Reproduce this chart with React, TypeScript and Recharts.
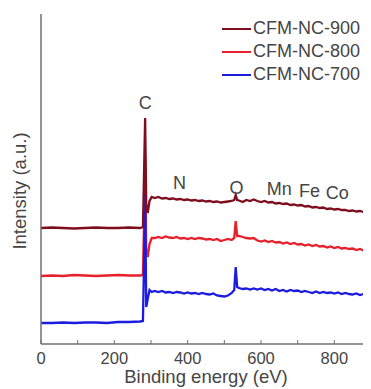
import { Line, LineChart, ReferenceDot, XAxis, YAxis } from "recharts";

// binding energy grid (eV), denser around the C 1s and O 1s lines
const energy = [
  0, 30, 60, 90, 120, 150, 180, 210, 240, 270,
  278, 281, 284, 287, 291, 296, 302,
  310, 320, 330, 340, 350, 360, 370, 380, 390, 400, 410, 420, 430, 440, 450,
  460, 470, 480, 490, 500, 510, 520,
  527, 531, 535,
  540, 550, 560, 570, 580, 590, 600, 610, 620, 630, 640, 650, 660, 670, 680,
  690, 700, 710, 720, 730, 740, 750, 760, 770, 780, 790, 800, 810, 820, 830,
  840, 850, 860, 870, 880, 890, 900,
];

// stacked survey spectra, offset intensity (a.u.)
const nc900 = [
  116, 116.5, 116, 115.5, 116, 116.5, 116, 116, 116.5, 116,
  117, 170, 226, 140, 131, 143, 147,
  146, 147, 145.5, 146, 145, 145.5, 144.5, 145, 144, 144.5, 143.5, 144, 143,
  143.5, 142.5, 143, 142, 142.5, 141.5, 142, 142.5, 143,
  144, 149, 144,
  143.5, 142, 144, 143, 144.5, 143, 142, 143, 141.5, 142, 140.5, 141, 140,
  140.5, 139, 139.5, 138.5, 139, 137.5, 138, 136.5, 137, 136, 136.5, 135,
  135.5, 134.5, 135, 134, 134, 133, 133.5, 132.5, 133, 132, 132.5, 131.5,
];

const nc800 = [
  68, 68.5, 68, 69, 68.5, 68, 68.5, 69, 68.5, 68.5,
  69, 120, 185, 95, 87, 100, 106,
  106, 107, 106, 107.5, 106.5, 106, 107, 105.5, 106, 105, 106, 105, 106,
  105.5, 104.5, 105, 104, 105, 103, 104, 105, 104,
  106, 123, 108,
  108, 107, 106, 105.5, 106, 103.5, 102.5, 103.5, 102, 103, 101.5, 102, 100.5,
  101.5, 100, 101, 99.5, 100, 98.5, 99.5, 98, 99, 97.5, 98, 96.5, 97.5, 96,
  97, 95.5, 96, 95, 95.5, 94, 95, 93.5, 94.5, 93.5,
];

const nc700 = [
  21, 21, 21.5, 21, 21.5, 21.5, 21, 22, 22, 22.5,
  23, 80, 150, 37, 45, 54, 52,
  53, 52, 53, 51.5, 52, 51, 52, 51.5, 50.5, 51.5, 50.5, 51, 50, 51, 50,
  49.5, 50.5, 48.5, 48, 47.5, 48.5, 51,
  54, 77, 57,
  56, 55, 55.5, 54.5, 55.5, 54.5, 55.5, 54, 55, 53.5, 55, 53, 54, 52.5, 54,
  53, 53.5, 52, 53, 52, 51, 52.5, 51, 52, 51, 51.5, 50.5, 51.5, 50, 51, 50,
  49.5, 50.5, 49, 50, 48.5, 50,
];

const xTicks = [0, 100, 200, 300, 400, 500, 600, 700, 800, 900];
const xLabels = ["0", "200", "400", "600", "800"];

// element markers: name, energy, height
const elements = ["C", "N", "O", "Mn", "Fe", "Co"];
const elementEnergy = [284, 378, 533, 650, 732, 808];
const elementHeight = [241, 161, 156, 155, 153, 151];

const series = [
  { key: "nc800", name: "CFM-NC-800", color: "#e8202c" },
  { key: "nc700", name: "CFM-NC-700", color: "#1c1ce0" },
  { key: "nc900", name: "CFM-NC-900", color: "#7e0e1e" },
];
const legendOrder = ["nc900", "nc800", "nc700"];

const data = energy.map((e, i) => ({
  e,
  nc900: nc900[i],
  nc800: nc800[i],
  nc700: nc700[i],
}));

const FONT = '"Liberation Sans", Arial, sans-serif';
const TEXT = "#454545";
const FRAME = "#707070";

function LegendBox() {
  return (
    <div
      style={{
        position: "absolute",
        top: 9,
        left: 214,
        fontFamily: FONT,
        fontSize: 18,
        color: TEXT,
        lineHeight: "23px",
        whiteSpace: "nowrap",
      }}
    >
      {legendOrder.map((k) => {
        const s = series.find((x) => x.key === k)!;
        return (
          <div key={k} style={{ display: "flex", alignItems: "center" }}>
            <span
              style={{
                display: "inline-block",
                width: 29,
                height: 2,
                background: s.color,
                marginRight: 2,
              }}
            />
            <span>{s.name}</span>
          </div>
        );
      })}
    </div>
  );
}

function YLabel(props: any) {
  const vb = props.viewBox;
  const cx = 11;
  const cy = vb.y + vb.height / 2 + 12;
  return (
    <text
      x={cx}
      y={cy}
      transform={`rotate(-90, ${cx}, ${cy})`}
      textAnchor="middle"
      dominantBaseline="central"
      fill={TEXT}
      fontSize={18.5}
      fontFamily={FONT}
    >
      Intensity (a.u.)
    </text>
  );
}

export default function App() {
  return (
    <div style={{ position: "relative", width: 363, height: 380, background: "#fff" }}>
      <LineChart
        width={363}
        height={380}
        data={data}
        margin={{ top: 6, right: 0, bottom: 0, left: 0 }}
      >
        <XAxis
          dataKey="e"
          type="number"
          domain={[0, 900]}
          ticks={xTicks}
          interval={0}
          height={44}
          tickSize={-4}
          tickMargin={12}
          tickLine={{ stroke: FRAME }}
          axisLine={{ stroke: FRAME, strokeWidth: 1.5 }}
          tick={{ fill: TEXT, fontSize: 16.5, fontFamily: FONT }}
          tickFormatter={(v: number) => (xLabels.includes(String(v)) ? String(v) : "")}
          label={{
            value: "Binding energy (eV)",
            position: "insideBottom",
            offset: 5,
            fill: TEXT,
            fontSize: 18.5,
            fontFamily: FONT,
          }}
        />
        <XAxis
          xAxisId="top"
          orientation="top"
          type="number"
          domain={[0, 900]}
          height={0}
          tick={false}
          tickLine={false}
          axisLine={{ stroke: FRAME, strokeWidth: 1.5 }}
        />
        <YAxis
          type="number"
          domain={[0, 330]}
          width={33}
          tick={false}
          tickLine={false}
          axisLine={{ stroke: FRAME, strokeWidth: 1.5 }}
          label={<YLabel />}
        />
        <YAxis
          yAxisId="r"
          orientation="right"
          type="number"
          domain={[0, 330]}
          width={0}
          tick={false}
          tickLine={false}
          axisLine={{ stroke: FRAME, strokeWidth: 1.5 }}
        />
        {series.map((s) => (
          <Line
            key={s.key}
            type="linear"
            dataKey={s.key}
            name={s.name}
            stroke={s.color}
            strokeWidth={2.3}
            dot={false}
            isAnimationActive={false}
          />
        ))}
        {elements.map((el, i) => (
          <ReferenceDot
            key={el}
            x={elementEnergy[i]}
            y={elementHeight[i]}
            r={0}
            fill="none"
            stroke="none"
            label={{
              value: el,
              position: "center",
              fill: TEXT,
              fontSize: 18,
              fontFamily: FONT,
            }}
          />
        ))}
      </LineChart>
      <LegendBox />
    </div>
  );
}
